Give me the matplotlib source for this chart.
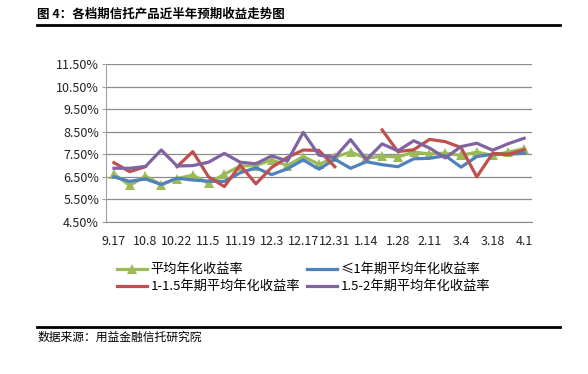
import numpy as np
import matplotlib
matplotlib.use("Agg")
import matplotlib.pyplot as plt
from matplotlib.lines import Line2D

plt.rcParams['font.family'] = ['Noto Sans CJK SC', 'DejaVu Sans']

# ===================================================
# Data (weekly, %)
# ===================================================

dates = ["9.17", "9.24", "10.8", "10.15", "10.22", "10.29", "11.5", "11.12",
         "11.19", "11.26", "12.3", "12.10", "12.17", "12.24", "12.31", "1.7",
         "1.14", "1.21", "1.28", "2.4", "2.11", "2.25", "3.4", "3.11",
         "3.18", "3.25", "4.1"]

avg_all = [6.63, 6.12, 6.53, 6.15, 6.42, 6.58, 6.21, 6.62, 6.98, 7.00,
           7.25, 7.00, 7.40, 7.05, 7.37, 7.60, 7.32, 7.42, 7.38, 7.60,
           7.52, 7.55, 7.45, 7.60, 7.45, 7.60, 7.75]

avg_1y = [6.50, 6.30, 6.41, 6.16, 6.44, 6.36, 6.31, 6.30, 6.68, 6.90,
          6.60, 6.86, 7.25, 6.84, 7.28, 6.88, 7.17, 7.04, 6.95, 7.30,
          7.32, 7.44, 6.93, 7.40, 7.50, 7.50, 7.55]

avg_1_15y = [7.13, 6.73, 6.95, np.nan, 6.95, 7.62, 6.50, 6.07, 7.02, 6.19,
             6.92, 7.36, 7.69, 7.67, 6.95, np.nan, np.nan, 8.58, 7.62, 7.70,
             8.16, 8.06, 7.80, 6.50, 7.54, 7.50, 7.70]

avg_15_2y = [6.88, 6.88, 6.96, 7.69, 6.98, 7.00, 7.15, 7.54, 7.15, 7.08,
             7.43, 7.20, 8.47, 7.46, 7.36, 8.15, 7.26, 7.96, 7.65, 8.10,
             7.78, 7.34, 7.84, 7.99, 7.68, 7.97, 8.21]

y_ticks = [4.5, 5.5, 6.5, 7.5, 8.5, 9.5, 10.5, 11.5]

# ===================================================
# Plot
# ===================================================

fig = plt.figure(figsize=(5.88, 3.74), dpi=100)
ax = fig.add_axes([0.1803, 0.4064, 0.7245, 0.4225])

x = np.arange(len(dates))

l_all, = ax.plot(x, avg_all, color="#9BBB59", lw=2.3, marker="^", markersize=6.5,
                 markeredgewidth=0, label="平均年化收益率", zorder=3)
l_1y, = ax.plot(x, avg_1y, color="#4F81BD", lw=2.3, label="≤1年期平均年化收益率", zorder=4)
l_115, = ax.plot(x, avg_1_15y, color="#C0504D", lw=2.3, label="1-1.5年期平均年化收益率", zorder=5)
l_152, = ax.plot(x, avg_15_2y, color="#8064A2", lw=2.3, label="1.5-2年期平均年化收益率", zorder=6)

ax.set_xlim(-0.5, len(dates) - 0.5)
ax.set_ylim(4.5, 11.5)
ax.set_yticks(y_ticks)
ax.set_yticklabels([f"{v:.2f}%" for v in y_ticks], fontsize=9, color="#222222")
ax.set_xticks(x[::2])
ax.set_xticklabels(dates[::2], fontsize=9, color="#222222")

ax.grid(axis="y", color="#8C8C8C", lw=0.9)
ax.set_axisbelow(True)
for side in ["top", "right"]:
    ax.spines[side].set_visible(False)
ax.spines["left"].set_color("#A0A0A0")
ax.spines["bottom"].set_color("#8C8C8C")
ax.tick_params(axis="y", length=3, color="#A0A0A0", pad=2)
ax.tick_params(axis="x", length=0, pad=9)

# row-major legend order as in the original
handles = [l_all, l_115, l_1y, l_152]
fig.legend(handles, [h.get_label() for h in handles], ncol=2, loc="upper left",
           bbox_to_anchor=(0.19, 0.31), frameon=False, fontsize=9.5,
           handlelength=2.3, handletextpad=0.25, columnspacing=0.5,
           labelspacing=0.3, borderaxespad=0)

# ===================================================
# Title / source
# ===================================================

fig.text(0.063, 0.962, "图 4：各档期信托产品近半年预期收益走势图",
         fontsize=9, fontweight="bold", va="center", ha="left")
fig.add_artist(Line2D([0.063, 0.952], [0.932, 0.932], color="black", lw=2))
fig.add_artist(Line2D([0.063, 0.952], [0.126, 0.126], color="black", lw=2))
fig.text(0.063, 0.098, "数据来源：用益金融信托研究院", fontsize=8.5,
         va="center", ha="left")

fig.savefig("out.png", dpi=100)
